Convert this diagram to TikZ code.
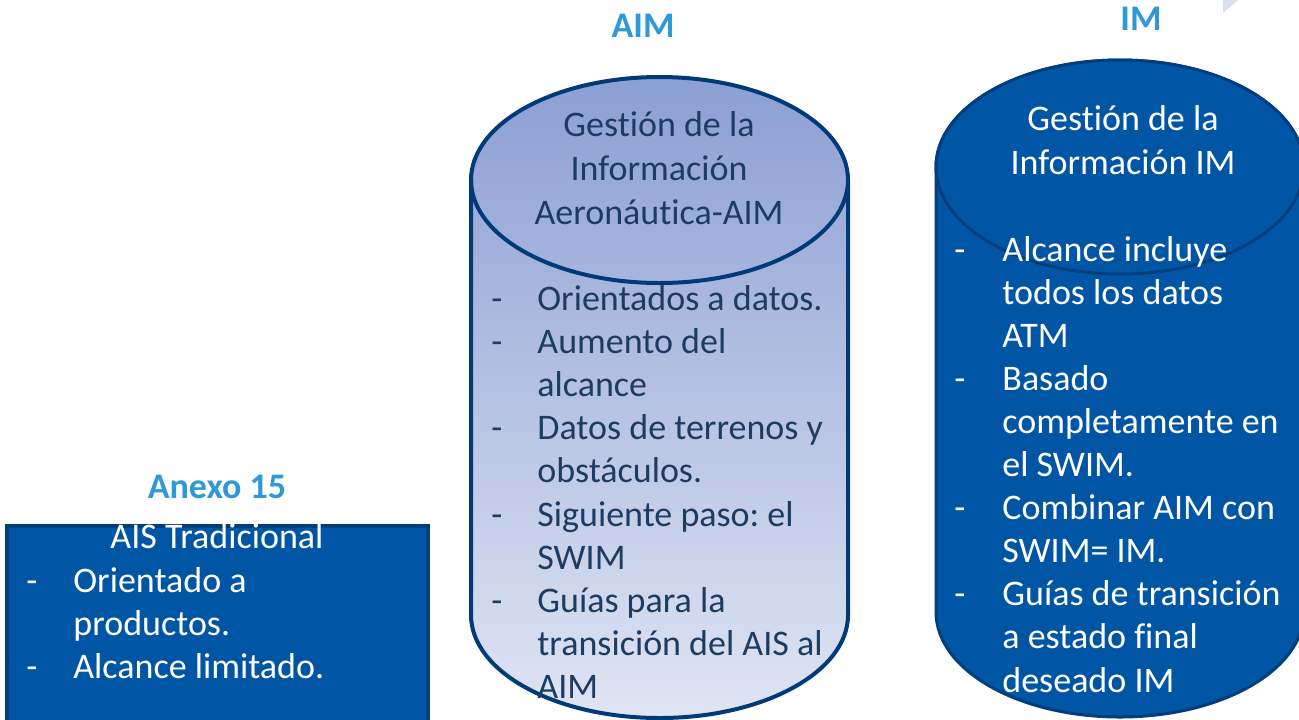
\documentclass[tikz,border=0pt]{standalone}
\usepackage{fontspec}
\setmainfont{Carlito}[Ligatures=NoCommon]
\frenchspacing
\definecolor{headblue}{HTML}{2E99D6}
\definecolor{imblue}{HTML}{0055A5}
\definecolor{imedge}{HTML}{003E7E}
\definecolor{aimedge}{HTML}{003A78}
\definecolor{aimtop}{HTML}{8C9FD3}
\definecolor{aimbottom}{HTML}{E0E5F3}
\definecolor{aimtext}{HTML}{1C3C62}
\definecolor{cornerfill}{HTML}{D9DEF0}

\begin{document}
\begin{tikzpicture}[x=0.5pt, y=0.5pt,
  every node/.style={inner sep=0pt, font=\fontsize{18}{21.6}\selectfont},
  head/.style={font=\fontsize{18}{20}\selectfont\bfseries, text=headblue, anchor=base},
  aimline/.style={anchor=base west, text=aimtext},
  imline/.style={anchor=base west, text=white}]
  \useasboundingbox (0,0) rectangle (1299,-719);
  \fill[cornerfill] (1223,0) -- (1238,0) -- (1223,-13) -- cycle;

  \draw[imedge, line width=2pt, fill=imblue] (7,-526) rectangle (428,-730);
  \node[head] (anexo) at (217,-498) {Anexo 15};
  \node[anchor=base, text=white] (ais) at (217,-548) {AIS Tradicional};
  \foreach \txt [count=\i from 0] in {Orientado a, productos., Alcance limitado.}
    \node[imline] (ais\i) at (73,-592-43*\i) {\txt};
  \foreach \i in {0,2}
    \node[imline] (aisdash\i) at (26,-592-43*\i) {-};

  \shade[top color=aimtop, bottom color=aimbottom] (471,-180)
    arc[start angle=180, end angle=0, x radius=188.5, y radius=103] -- (848,-615)
    arc[start angle=0, end angle=-180, x radius=188.5, y radius=103] -- cycle;
  \draw[aimedge, line width=2pt] (471,-180) -- (471,-615)
    arc[start angle=180, end angle=360, x radius=188.5, y radius=103] -- (848,-180);
  \draw[aimedge, line width=2pt] (659.5,-180) ellipse[x radius=188.5, y radius=103];
  \node[head] (aimhead) at (643,-37) {AIM};
  \foreach \txt [count=\i from 0] in {Gestión de la, Información, Aeronáutica-AIM}
    \node[anchor=base, text=aimtext] (aimtitle\i) at (659,-136-44*\i) {\txt};
  \foreach \txt [count=\i from 0] in {Orientados a datos., Aumento del, alcance,
      Datos de terrenos y, obstáculos., Siguiente paso: el, SWIM, Guías para la,
      transición del AIS al, AIM}
    \node[aimline] (aim\i) at (537,-310-43.2*\i) {\txt};
  \foreach \i in {0,1,3,5,7}
    \node[aimline] (aimdash\i) at (491,-310-43.2*\i) {-};

  \draw[imedge, line width=1.5pt, fill=imblue] (936,-167)
    arc[start angle=180, end angle=0, x radius=184, y radius=107] -- (1304,-612)
    arc[start angle=0, end angle=-180, x radius=184, y radius=105] -- cycle;
  \draw[imedge, line width=1.5pt, fill=imblue] (1120,-167) ellipse[x radius=184, y radius=107];
  \node[head] (imhead) at (1141,-30) {IM};
  \foreach \txt [count=\i from 0] in {Gestión de la, Información IM}
    \node[anchor=base, text=white] (imtitle\i) at (1123,-130-44*\i) {\txt};
  \foreach \txt [count=\i from 0] in {Alcance incluye, todos los datos, ATM, Basado,
      completamente en, el SWIM., Combinar AIM con, SWIM= IM., Guías de transición,
      a estado final, deseado IM}
    \node[imline] (im\i) at (1002,-261-43.1*\i) {\txt};
  \foreach \i in {0,3,6,8}
    \node[imline] (imdash\i) at (954,-261-43.1*\i) {-};
\end{tikzpicture}
\end{document}
